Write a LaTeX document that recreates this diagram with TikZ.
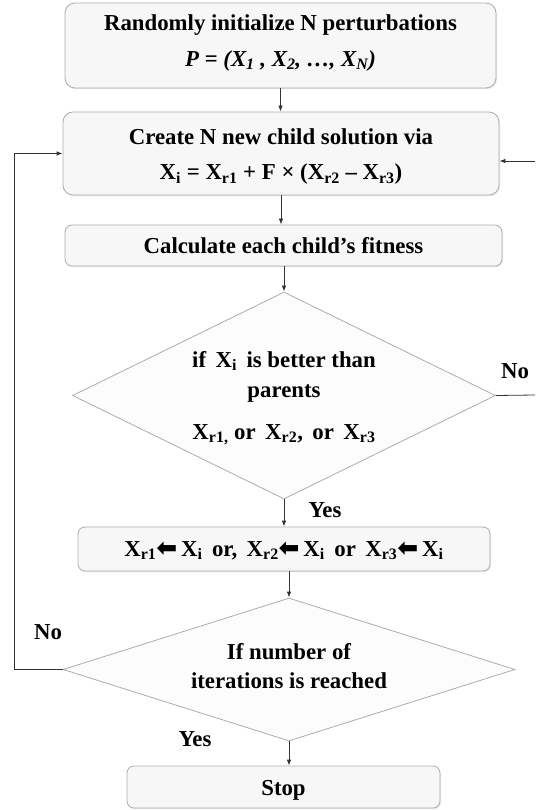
\documentclass[tikz,border=0pt]{standalone}
\usepackage{fontspec}
\setmainfont{Liberation Serif}
\newfontfamily\symfont{DejaVu Sans}
\usetikzlibrary{arrows.meta,shapes.geometric,shadows}

\newcommand{\sbs}[1]{\textsubscript{#1}}
\newcommand{\larr}{{\symfont\fontsize{25}{25}\selectfont ⬅}}

\tikzset{
  flowbox/.style={draw=gray!65, line width=0.8pt, fill=gray!6,
    rounded corners=#1, inner sep=0pt,
    drop shadow={opacity=0.18, shadow xshift=1pt, shadow yshift=-1.2pt}},
  flowbox/.default=7pt,
  decision/.style={shape=diamond, draw=gray!65, line width=0.8pt,
    fill=gray!2, inner sep=0pt},
  txt/.style={font=\bfseries\fontsize{22.8}{26}\selectfont, inner sep=0pt, anchor=base},
  flow/.style={draw=black!80, line width=0.8pt, -{Latex[length=6pt,width=4.5pt]}},
  plain/.style={draw=black!80, line width=0.8pt},
}

\begin{document}
\begin{tikzpicture}[x=1pt,y=-1pt]
\useasboundingbox (0,0) rectangle (535,810);

% process boxes and decisions
\node[flowbox=10pt, minimum width=431pt, minimum height=85pt] (init) at (280.5,45.5) {};
\node[flowbox=10pt, minimum width=436pt, minimum height=83pt] (child) at (281,153.5) {};
\node[flowbox, minimum width=437pt, minimum height=41pt] (fit) at (283.5,245.5) {};
\node[decision, minimum width=423pt, minimum height=207pt] (better) at (284,395.5) {};
\node[flowbox, minimum width=412pt, minimum height=44pt] (swap) at (284,549) {};
\node[decision, minimum width=452pt, minimum height=143pt] (iter) at (289,669.5) {};
\node[flowbox, minimum width=313pt, minimum height=42pt] (stop) at (283.5,787) {};

% box texts
\node[txt] (t1a) at (280.5,31) {Randomly initialize N perturbations};
\node[txt] (t1b) at (280.5,66.5) {\itshape P = (X\sbs{1} , X\sbs{2}, …, X\sbs{N})};
\node[txt] (t2a) at (281,145) {Create N new child solution via};
\node[txt] (t2b) at (281,180) {X\sbs{i} = X\sbs{r1} + F × (X\sbs{r2} – X\sbs{r3})};
\node[txt] (t3) at (283.5,253) {Calculate each child’s fitness};
\node[txt] (t4a) at (284,367) {if\, X\sbs{i}\, is better than};
\node[txt] (t4b) at (284,397) {parents};
\node[txt] (t4c) at (284,439) {X\sbs{r1,} or\, X\sbs{r2},\, or\, X\sbs{r3}};
\node[txt] (t5) at (284,556) {X\sbs{r1}\larr\,X\sbs{i}\, or,\, X\sbs{r2}\larr\,X\sbs{i}\, or\, X\sbs{r3}\larr\,X\sbs{i}};
\node[txt] (t6a) at (289,659) {If number of};
\node[txt] (t6b) at (289,688) {iterations is reached};
\node[txt] (t7) at (283.5,795) {Stop};

% branch labels
\node[txt] (noR) at (515,378) {No};
\node[txt] (yesA) at (325,517) {Yes};
\node[txt] (noL) at (48,639) {No};
\node[txt] (yesB) at (195,746) {Yes};

% loose ends at the page edge
\coordinate (rout) at (535,395);
\coordinate (rin) at (535,161);

% main flow
\draw[flow] (init.south) -- (init.south |- child.north);
\draw[flow] (child.south) -- (child.south |- fit.north);
\draw[flow] (fit.south -| better.north) -- (better.north);
\draw[flow] (better.south) -- (better.south |- swap.north);
\draw[flow] (swap.south -| iter.north) -- (iter.north);
\draw[flow] (iter.south) -- (iter.south |- stop.north);

% feedback loops
\draw[plain] (better.east) -- (rout);
\draw[flow] (rin) -- (rin -| child.east);
\draw[flow] (iter.west) -- ++(-48,0) |- (child.west);
\end{tikzpicture}
\end{document}
